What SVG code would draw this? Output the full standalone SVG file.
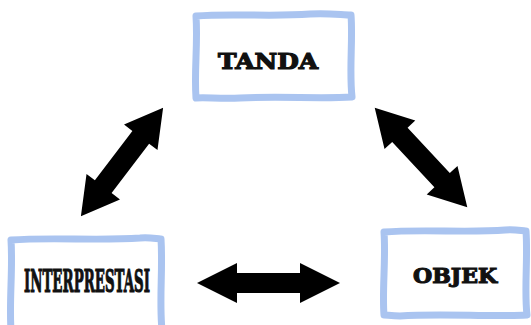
<svg xmlns="http://www.w3.org/2000/svg" width="531" height="325" viewBox="0 0 531 325">
<style>
.box{fill:#ffffff;stroke:#aac4f0;stroke-width:7;stroke-linejoin:round;stroke-linecap:round}
.lbl{font-family:"DejaVu Serif","Liberation Serif",serif;font-weight:bold;fill:#111;text-anchor:middle;stroke:#111}
.arr{fill:#000}
</style>
<defs>
<path id="dArrow" d="M-68,0 L-31,-21 L-31,-10.5 L31,-10.5 L31,-21 L68,0 L31,21 L31,10.5 L-31,10.5 L-31,21 Z"/>
<path id="hArrow" d="M-71.5,0 L-31.5,-20 L-31.5,-10 L31.5,-10 L31.5,-20 L71.5,0 L31.5,20 L31.5,10 L-31.5,10 L-31.5,20 Z"/>
</defs>
<rect width="531" height="325" fill="#ffffff"/>
<g id="tanda">
<path class="box" d="M196,16 C230,13 270,17 310,14 C330,13 342,15 351,15 C353,40 349,70 352,97 C320,99 280,96 240,98 C220,99 205,97 196,98 C194,70 198,45 196,16 Z"/>
<text class="lbl" x="268" y="69" font-size="22" textLength="100" lengthAdjust="spacingAndGlyphs" stroke-width="1.2">TANDA</text>
</g>
<g id="interprestasi">
<path class="box" d="M11,240 C50,237 100,241 140,238 C150,237 157,239 161,239 C163,270 159,300 162,330 L11,330 C9,300 13,270 11,240 Z"/>
<text class="lbl" x="87" y="292" font-size="31" font-family="Liberation Serif" textLength="126" lengthAdjust="spacingAndGlyphs" stroke-width="1.2">INTERPRESTASI</text>
</g>
<g id="objek">
<path class="box" d="M384,232 C420,229 470,233 505,230 C515,229 522,231 526,231 C528,260 524,290 527,315 C490,317 440,313 400,316 C392,316 387,315 384,315 C382,290 386,260 384,232 Z"/>
<text class="lbl" x="455" y="283" font-size="20" textLength="84" lengthAdjust="spacingAndGlyphs" stroke-width="1.1">OBJEK</text>
</g>
<g id="connectors">
<use href="#dArrow" class="arr" transform="translate(122,162) rotate(-52.8)"/>
<use href="#dArrow" class="arr" transform="translate(421,157.5) rotate(47.1)"/>
<use href="#hArrow" class="arr" transform="translate(268.5,283)"/>
</g>
</svg>
